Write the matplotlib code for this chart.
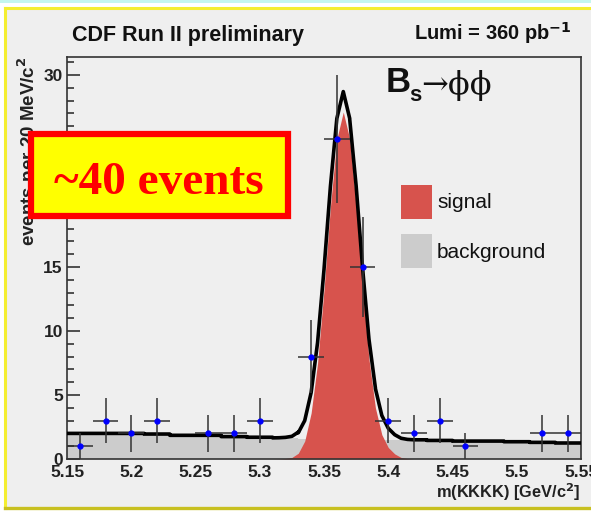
import matplotlib
matplotlib.use("Agg")
import matplotlib.pyplot as plt
import numpy as np
from matplotlib.patches import Rectangle
from matplotlib.ticker import MultipleLocator

# measured candidates per 20 MeV bin
data_mass = [5.16, 5.18, 5.20, 5.22, 5.26, 5.28, 5.30, 5.34, 5.36, 5.38,
             5.40, 5.42, 5.44, 5.46, 5.52, 5.54]
data_counts = [1, 3, 2, 3, 2, 2, 3, 8, 25, 15, 3, 2, 3, 1, 2, 2]

# background fit level per bin (20 bins from 5.15 to 5.55)
bin_edges = np.round(np.linspace(5.15, 5.55, 21), 3)
bkg_level = [2.0, 2.0, 2.0, 1.95, 1.85, 1.85, 1.75, 1.7, 1.65, 1.6,
             1.6, 1.55, 1.5, 1.5, 1.45, 1.4, 1.4, 1.35, 1.3, 1.25]

# signal shape
sig_mass = [5.310, 5.315, 5.320, 5.325, 5.330, 5.335, 5.340, 5.345, 5.350, 5.355,
            5.360, 5.365, 5.370, 5.375, 5.380, 5.385, 5.390, 5.395, 5.400, 5.405,
            5.410, 5.415, 5.420]
sig_vals = [0.0, 0.01, 0.04, 0.12, 0.45, 1.4, 3.6, 7.5, 13.2, 19.7,
            25.0, 27.1, 25.0, 19.8, 13.4, 7.8, 4.0, 1.9, 0.9, 0.4,
            0.12, 0.03, 0.0]

RED = "#d7534d"
GRAY = "#cccccc"
PANEL = "#efefef"

W, H = 591, 513
fig = plt.figure(figsize=(W / 100, H / 100), dpi=100, facecolor="white")


def fx(px):
    return px / W


def fy(py):
    return (H - py) / H


# slide frame around the plot
fig.add_artist(Rectangle((0, fy(3)), 1, 3 / H, transform=fig.transFigure,
                         facecolor="#c4f6ee", edgecolor="none", zorder=0))
fig.add_artist(Rectangle((fx(5), fy(508)), 1, (508 - 8) / H, transform=fig.transFigure,
                         facecolor=PANEL, edgecolor="none", zorder=0))
fig.add_artist(plt.Line2D([fx(5), 1], [fy(8), fy(8)], color="#f4ee30", lw=2.2, zorder=1))
fig.add_artist(plt.Line2D([fx(5), fx(5)], [fy(8), fy(508)], color="#f4ee30", lw=2.2, zorder=1))
fig.add_artist(plt.Line2D([fx(5), 1], [fy(508), fy(508)], color="#c8c020", lw=2.4, zorder=1))

ax = fig.add_axes([fx(67), fy(459), fx(581 - 67), (459 - 57) / H])
ax.set_facecolor(PANEL)

ax.stairs(bkg_level, bin_edges, fill=True, color=GRAY, zorder=1)
ax.fill_between(sig_mass, sig_vals, color=RED, lw=0, zorder=2)

# total fit = background + signal
sig_lookup = dict(zip(np.round(sig_mass, 3), sig_vals))
tot_x, tot_y = [], []
for i, b in enumerate(bkg_level):
    lo, hi = bin_edges[i], bin_edges[i + 1]
    xs = sorted({lo, hi} | {m for m in sig_lookup if lo <= m <= hi})
    for x in xs:
        tot_x.append(x)
        tot_y.append(b + sig_lookup.get(x, 0.0))
ax.plot(tot_x, tot_y, color="black", lw=2.6, zorder=3, solid_joinstyle="round")

ax.errorbar(data_mass, data_counts, yerr=np.sqrt(data_counts), xerr=0.01,
            fmt="o", ms=3.5, mfc="#0000ff", mec="#0000ff", ecolor="#333333",
            elinewidth=1.1, capsize=0, zorder=4)

ax.set_xlim(5.15, 5.55)
ax.set_ylim(0, 31.4)
ax.set_xticks([5.15, 5.2, 5.25, 5.3, 5.35, 5.4, 5.45, 5.5, 5.55],
              ["5.15", "5.2", "5.25", "5.3", "5.35", "5.4", "5.45", "5.5", "5.55"])
ax.set_yticks([0, 5, 10, 15, 20, 25, 30])
ax.yaxis.set_minor_locator(MultipleLocator(1))
ax.tick_params(axis="x", length=0, pad=4)
ax.tick_params(axis="y", which="major", direction="in", length=9.5, width=1.2, color="#333333", pad=3)
ax.tick_params(axis="y", which="minor", direction="in", length=5, width=1.2, color="#333333")
for lab in ax.get_xticklabels() + ax.get_yticklabels():
    lab.set_fontfamily("Liberation Sans")
    lab.set_fontweight("bold")
    lab.set_fontsize(12.5)
    lab.set_color("#222222")
for sp in ax.spines.values():
    sp.set_color("#333333")
    sp.set_linewidth(1.2)

# texts
fig.text(fx(72), fy(35), "CDF Run II preliminary", family="Liberation Sans",
         weight="bold", fontsize=15.5, ha="left", va="center", color="#111111")
fig.text(fx(572), fy(33), r"Lumi = 360 pb$^{\mathbf{-1}}$", family="Liberation Sans",
         weight="bold", fontsize=14.5, ha="right", va="center", color="#111111")
fig.text(fx(28), fy(57), r"events per 20 MeV/c$^{\mathbf{2}}$", family="Liberation Sans",
         weight="bold", fontsize=13.5, rotation=90, ha="center", va="top", color="#222222")
fig.text(fx(580), fy(492), r"m(KKKK) [GeV/c$^{\mathbf{2}}$]", family="Liberation Sans",
         weight="bold", fontsize=11.8, ha="right", va="center", color="#222222")

fig.text(fx(386), fy(92), "B", family="Liberation Sans", weight="bold",
         fontsize=25, ha="left", va="baseline", color="#111111")
fig.text(fx(409), fy(101), "s", family="Liberation Sans", weight="bold",
         fontsize=16, ha="left", va="baseline", color="#111111")
fig.text(fx(421), fy(94), "\u2192\u03d5\u03d5", family="DejaVu Serif",
         fontsize=23, ha="left", va="baseline", color="#111111")

# legend
for py, col, name in [(185, RED, "signal"), (234, GRAY, "background")]:
    fig.add_artist(Rectangle((fx(401), fy(py + 34)), 31 / W, 34 / H,
                             transform=fig.transFigure, facecolor=col, edgecolor="none"))
    fig.text(fx(437), fy(py + 18), name, family="Liberation Sans", fontsize=15,
             ha="left", va="center", color="#111111")

# annotation box
fig.add_artist(Rectangle((fx(31), fy(216)), 257 / W, 82 / H, transform=fig.transFigure,
                         facecolor="#ffff00", edgecolor="#ff0000", lw=4.5, zorder=10))
fig.text(fx(159), fy(194), "~40 events", family="Liberation Serif", weight="bold",
         fontsize=34, color="#ff0000", ha="center", va="baseline", zorder=11)

fig.savefig("out.png", dpi=100, facecolor="white")
